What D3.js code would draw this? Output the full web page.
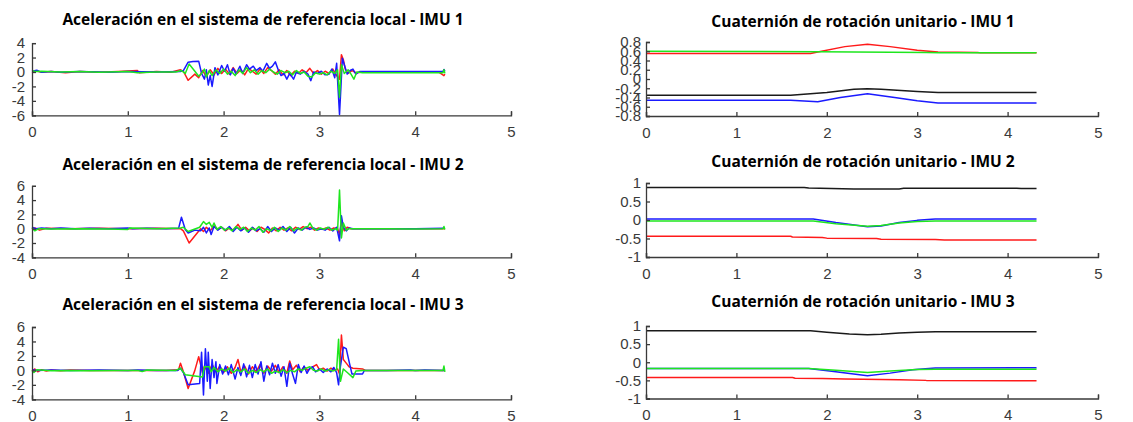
<!DOCTYPE html>
<html>
<head>
<meta charset="utf-8">
<script src="https://cdn.jsdelivr.net/npm/d3@7"></script>
<style>
  body { margin: 0; background: #fff; }
  svg { display: block; }
</style>
</head>
<body>
<svg id="fig" width="1133" height="422"></svg>
<script>
// ---------- titles ----------
const accTitles = [
  "Aceleración en el sistema de referencia local - IMU 1",
  "Aceleración en el sistema de referencia local - IMU 2",
  "Aceleración en el sistema de referencia local - IMU 3"
];
const quatTitles = [
  "Cuaternión de rotación unitario - IMU 1",
  "Cuaternión de rotación unitario - IMU 2",
  "Cuaternión de rotación unitario - IMU 3"
];

// ---------- tick values / labels ----------
const xTicks = [0, 1, 2, 3, 4, 5];
const xTickLabels = ["0", "1", "2", "3", "4", "5"];

const accYTicks1 = [-6, -4, -2, 0, 2, 4];
const accYLabels1 = ["-6", "-4", "-2", "0", "2", "4"];
const accYTicks23 = [-4, -2, 0, 2, 4, 6];
const accYLabels23 = ["-4", "-2", "0", "2", "4", "6"];

const quatYTicks1 = [-0.8, -0.6, -0.4, -0.2, 0, 0.2, 0.4, 0.6, 0.8];
const quatYLabels1 = ["-0.8", "-0.6", "-0.4", "-0.2", "0", "0.2", "0.4", "0.6", "0.8"];
const quatYTicks23 = [-1, -0.5, 0, 0.5, 1];
const quatYLabels23 = ["-1", "-0.5", "0", "0.5", "1"];

// ---------- acceleration, IMU 1 : [t (s), a] ----------
const acc1Red = [[0,-0.1],[0.04,0.15],[0.1,-0.05],[0.2,0.05],[0.35,-0.1],[0.5,0.05],[0.7,-0.05],[0.9,0.05],[1.1,0.2],[1.12,-0.1],[1.3,0.05],[1.45,-0.05],[1.55,0.3],[1.58,0.1],[1.63,-1.15],[1.7,-0.3],[1.74,-0.8],[1.78,0.2],[1.82,-0.6],[1.86,0.3],[1.9,-0.4],[1.94,0.5],[1.98,-0.2],[2.02,0.4],[2.06,-0.3],[2.1,0.6],[2.14,-0.2],[2.18,0.3],[2.22,-0.4],[2.26,0.5],[2.3,0.1],[2.34,-0.3],[2.38,0.4],[2.42,-0.2],[2.46,0.6],[2.5,0.2],[2.54,-0.3],[2.58,0.3],[2.62,-0.4],[2.66,0.2],[2.7,-0.5],[2.74,0.1],[2.78,-0.2],[2.82,0.3],[2.86,-0.1],[2.9,0.5],[2.94,-0.2],[2.98,0.2],[3.02,-0.3],[3.06,0.1],[3.1,-0.2],[3.14,0.4],[3.18,-0.5],[3.21,-1.0],[3.23,2.4],[3.25,1.7],[3.27,0.4],[3.3,-0.2],[3.34,0.2],[3.38,-0.1],[3.45,0],[3.7,-0.05],[4.0,0],[4.25,-0.05],[4.3,-0.5],[4.31,-0.3]];
const acc1Blue = [[0,0.1],[0.05,0.25],[0.1,-0.05],[0.2,0.05],[0.3,-0.05],[0.5,0.05],[0.8,-0.05],[1.0,0.05],[1.3,0],[1.55,0.05],[1.58,0.2],[1.63,1.35],[1.68,1.45],[1.74,1.5],[1.77,-0.2],[1.8,-1.0],[1.82,0.3],[1.84,-1.8],[1.86,-0.5],[1.88,-2.0],[1.91,0.6],[1.94,-0.4],[1.98,0.9],[2.01,0.1],[2.04,1.0],[2.07,-0.4],[2.1,0.5],[2.13,-0.3],[2.17,0.8],[2.2,-0.2],[2.24,1.0],[2.27,0.4],[2.31,0.8],[2.34,0.2],[2.38,0.6],[2.41,0.1],[2.45,1.2],[2.48,0.5],[2.51,0.8],[2.54,1.4],[2.57,0.3],[2.6,-0.5],[2.63,-0.2],[2.66,-1.0],[2.69,-0.2],[2.73,-1.0],[2.76,0],[2.8,-0.3],[2.84,0.1],[2.88,-0.3],[2.91,-1.2],[2.94,0],[2.98,-0.2],[3.02,0.1],[3.06,-0.4],[3.1,-0.3],[3.13,0.4],[3.16,-0.8],[3.18,1.2],[3.21,-5.9],[3.24,1.9],[3.26,1.0],[3.29,-0.3],[3.32,0.2],[3.35,0.4],[3.38,-0.3],[3.42,0.05],[3.7,0.05],[4.0,0.05],[4.29,0.05],[4.3,0.35],[4.31,0.1]];
const acc1Green = [[0,0.2],[0.04,0.05],[0.1,0.1],[0.3,0],[0.5,0.05],[0.7,-0.05],[1.0,0.05],[1.1,-0.1],[1.3,0],[1.5,0],[1.56,0.2],[1.6,-0.2],[1.64,1.1],[1.7,0.1],[1.74,-0.6],[1.77,-0.2],[1.8,0.4],[1.82,-0.7],[1.85,0.2],[1.88,-0.5],[1.92,0.3],[1.96,-0.2],[2.0,0.4],[2.04,-0.3],[2.08,0.1],[2.12,-0.5],[2.16,0.3],[2.2,-0.2],[2.24,0.6],[2.28,-0.1],[2.32,0.3],[2.36,-0.3],[2.4,0.2],[2.44,-0.1],[2.48,0.4],[2.52,0],[2.56,-0.3],[2.6,0.2],[2.64,-0.1],[2.68,0.1],[2.72,-0.4],[2.76,0.2],[2.8,-0.2],[2.84,0],[2.88,-0.6],[2.92,-0.7],[2.96,-0.1],[3.0,-0.3],[3.04,-0.1],[3.08,-0.4],[3.12,0.1],[3.16,-0.2],[3.19,0.3],[3.21,-3.5],[3.23,1.0],[3.26,-0.2],[3.3,0.3],[3.33,-0.3],[3.36,-1.0],[3.39,0],[3.45,-0.1],[3.7,-0.1],[4.0,-0.1],[4.29,-0.1],[4.3,0.3],[4.31,-0.2]];

// ---------- acceleration, IMU 2 ----------
const acc2Red = [[0,-0.1],[0.03,0.1],[0.08,-0.2],[0.15,0.05],[0.4,0],[0.7,0.05],[1.0,0],[1.3,0.05],[1.55,0],[1.58,-0.3],[1.64,-2.0],[1.76,0],[1.79,-0.4],[1.82,0.2],[1.86,-0.3],[1.9,0.4],[1.94,-0.1],[1.98,0.2],[2.02,-0.3],[2.06,0.1],[2.1,-0.2],[2.15,0.6],[2.19,-0.2],[2.23,0.2],[2.27,-0.3],[2.31,0.1],[2.35,-0.4],[2.39,0.2],[2.43,-0.1],[2.47,-0.6],[2.51,0.1],[2.55,-0.3],[2.59,0.2],[2.63,-0.2],[2.67,0.1],[2.71,-0.3],[2.75,0.2],[2.79,-0.1],[2.83,0.3],[2.87,0],[2.91,0.2],[2.95,-0.2],[2.99,0.1],[3.03,-0.1],[3.07,0.1],[3.11,-0.2],[3.15,0.1],[3.19,0],[3.21,-0.8],[3.23,0.8],[3.26,-0.3],[3.29,0.2],[3.33,0],[3.4,0],[3.7,0],[4.0,0],[4.31,0]];
const acc2Blue = [[0,0.2],[0.04,0],[0.1,0.1],[0.2,0],[0.3,0.1],[0.45,0],[0.6,0.05],[0.8,0],[1.0,0.1],[1.05,0],[1.2,0.05],[1.4,0],[1.53,0.05],[1.56,1.6],[1.6,-0.1],[1.63,-0.6],[1.7,-0.2],[1.76,-0.3],[1.79,0.2],[1.82,-0.6],[1.85,0.1],[1.87,-0.8],[1.9,0.3],[1.94,-0.2],[1.98,0.2],[2.02,-0.2],[2.06,0.3],[2.1,-0.4],[2.14,0.2],[2.18,-0.3],[2.22,0.1],[2.26,-0.5],[2.3,0.2],[2.34,-0.3],[2.38,0],[2.42,-0.5],[2.46,0.3],[2.5,-0.4],[2.54,0.1],[2.58,-0.2],[2.62,0.3],[2.66,-0.4],[2.7,0.2],[2.74,-0.6],[2.78,0.1],[2.82,-0.2],[2.86,0.2],[2.9,-0.1],[2.94,0.1],[2.98,-0.2],[3.02,0],[3.06,-0.2],[3.1,0.2],[3.14,-0.3],[3.18,0.2],[3.21,-1.7],[3.23,1.8],[3.25,0.2],[3.28,-0.3],[3.31,0.1],[3.35,0],[3.5,0],[4.0,0],[4.3,0.05]];
const acc2Green = [[0,0.1],[0.03,-0.3],[0.07,0],[0.2,-0.05],[0.5,0],[0.8,-0.05],[1.0,-0.1],[1.02,0.1],[1.3,0],[1.55,0.1],[1.58,0.2],[1.63,-0.4],[1.75,0.2],[1.79,1.0],[1.82,0.6],[1.85,0.9],[1.88,0.2],[1.9,0.8],[1.93,-0.1],[1.97,0.3],[2.01,-0.2],[2.05,0.1],[2.09,-0.3],[2.13,0.3],[2.17,-0.1],[2.21,0.2],[2.25,-0.4],[2.29,0.1],[2.33,-0.2],[2.37,0.3],[2.41,-0.5],[2.45,0],[2.49,-0.3],[2.53,0.2],[2.57,-0.4],[2.61,0.1],[2.65,-0.2],[2.69,0.3],[2.73,-0.3],[2.77,0.1],[2.81,-0.2],[2.85,0.2],[2.88,0.3],[2.9,0.8],[2.93,0.1],[2.97,-0.2],[3.01,0.1],[3.05,-0.1],[3.09,0.2],[3.13,-0.2],[3.17,0],[3.19,-0.2],[3.21,5.4],[3.23,-1.3],[3.25,0.8],[3.28,-0.2],[3.31,0],[3.4,0],[3.7,0],[3.95,-0.05],[4.29,0],[4.3,0.3],[4.31,-0.1]];

// ---------- acceleration, IMU 3 ----------
const acc3Red = [[0,-0.1],[0.03,0.2],[0.06,-0.2],[0.1,0.1],[0.15,-0.1],[0.2,0.05],[0.3,-0.05],[0.4,0.05],[0.6,0],[1.0,0],[1.4,0],[1.53,0.1],[1.55,1.0],[1.58,-0.2],[1.63,-2.5],[1.7,0],[1.74,1.9],[1.78,-0.3],[1.8,0.6],[1.84,-0.4],[1.88,0.8],[1.92,-0.2],[1.96,0.6],[2.0,-0.3],[2.04,0.5],[2.08,-0.4],[2.12,0.4],[2.15,1.5],[2.18,-0.2],[2.22,0.6],[2.26,-0.5],[2.3,0.5],[2.34,-0.2],[2.38,0.8],[2.42,-0.4],[2.46,0.6],[2.5,-0.1],[2.54,0.7],[2.58,-0.3],[2.62,0.5],[2.66,-0.4],[2.69,1.3],[2.72,0.1],[2.76,0.7],[2.8,-0.2],[2.84,0.5],[2.88,0],[2.92,0.4],[2.97,0.8],[3.0,0.1],[3.04,0.3],[3.08,-0.1],[3.12,0.3],[3.16,0],[3.19,0.2],[3.21,-0.5],[3.23,4.9],[3.25,1.5],[3.28,1.0],[3.31,0.5],[3.35,0.3],[3.45,0.2],[3.48,0],[3.7,0],[4.0,0],[4.31,0]];
const acc3Blue = [[0,0.1],[0.05,0],[0.2,0.05],[0.4,0],[0.7,0.05],[1.0,0],[1.1,0.05],[1.3,0],[1.52,0],[1.55,0.3],[1.58,-0.3],[1.63,-2.0],[1.75,-1.8],[1.77,2.5],[1.79,-3.4],[1.81,3.0],[1.83,-1.5],[1.84,2.5],[1.86,-2.5],[1.88,1.5],[1.9,-1.0],[1.92,1.2],[1.93,-1.8],[1.96,0.8],[1.99,-0.5],[2.02,0.6],[2.05,-0.6],[2.08,0.8],[2.12,-1.2],[2.15,0.4],[2.18,-0.7],[2.21,0.9],[2.24,-0.9],[2.27,0.7],[2.3,-1.0],[2.33,0.8],[2.36,-0.5],[2.39,1.2],[2.42,-1.5],[2.45,0.6],[2.48,-0.6],[2.51,1.0],[2.54,-0.4],[2.57,0.8],[2.6,-0.8],[2.63,0.5],[2.66,-2.2],[2.69,1.0],[2.72,-0.5],[2.75,-1.8],[2.78,0.8],[2.81,-0.3],[2.84,0.6],[2.87,-0.4],[2.9,0.3],[2.93,0.5],[2.96,-0.2],[3.0,0.2],[3.04,-0.3],[3.08,0.2],[3.12,-0.2],[3.15,0.4],[3.18,-0.3],[3.2,-2.0],[3.22,0.6],[3.25,3.2],[3.28,3.0],[3.31,1.2],[3.34,-0.5],[3.45,-0.5],[3.47,0],[3.7,0],[3.95,0.05],[4.0,0],[4.1,0.05],[4.3,0]];
const acc3Green = [[0,0],[0.02,-0.3],[0.05,0.1],[0.2,-0.05],[0.4,0],[0.6,-0.05],[0.9,0],[1.1,0],[1.15,-0.15],[1.2,0.05],[1.5,0],[1.55,0.3],[1.6,-0.6],[1.78,-0.9],[1.8,0.5],[1.85,0.5],[1.87,-0.2],[1.9,0.4],[1.94,-0.2],[1.98,0.2],[2.02,-0.1],[2.06,0.3],[2.1,-0.3],[2.14,0.1],[2.18,-0.2],[2.22,0.2],[2.26,-0.4],[2.3,0],[2.34,-0.3],[2.38,0.1],[2.42,-0.2],[2.46,0.2],[2.5,-0.4],[2.54,-0.1],[2.58,-0.3],[2.62,0.1],[2.66,-0.3],[2.7,0],[2.74,-0.2],[2.78,0.2],[2.82,0],[2.86,0.3],[2.9,0.5],[2.94,0],[2.98,-0.1],[3.02,0.2],[3.06,-0.1],[3.1,0.1],[3.14,-0.1],[3.18,0.1],[3.2,4.3],[3.22,-1.5],[3.25,0.2],[3.3,-0.4],[3.35,-1.0],[3.38,-0.1],[3.45,0],[3.7,0],[4.0,0],[4.29,0],[4.3,0.6],[4.31,-0.2]];

// ---------- unit quaternion, IMU 1 ----------
const quat1Black = [[0,-0.35],[1.6,-0.35],[2.0,-0.29],[2.3,-0.22],[2.45,-0.21],[2.6,-0.22],[3.0,-0.27],[3.23,-0.29],[4.32,-0.29]];
const quat1Red = [[0,0.55],[1.82,0.55],[1.9,0.585],[2.2,0.7],[2.45,0.75],[2.7,0.7],[3.0,0.62],[3.23,0.585],[3.67,0.575],[3.7,0.565],[4.32,0.565]];
const quat1Blue = [[0,-0.46],[1.6,-0.46],[1.9,-0.49],[2.15,-0.4],[2.45,-0.32],[2.75,-0.4],[3.0,-0.47],[3.23,-0.52],[4.32,-0.52]];
const quat1Green = [[0,0.6],[1.9,0.59],[3.1,0.575],[3.25,0.565],[4.32,0.565]];

// ---------- unit quaternion, IMU 2 ----------
const quat2Black = [[0,0.88],[1.75,0.88],[1.8,0.865],[2.3,0.84],[2.8,0.84],[2.85,0.855],[4.1,0.86],[4.15,0.85],[4.32,0.85]];
const quat2Red = [[0,-0.44],[1.6,-0.44],[1.62,-0.46],[1.95,-0.47],[2.0,-0.49],[2.55,-0.5],[2.6,-0.52],[3.2,-0.53],[3.3,-0.54],[4.32,-0.54]];
const quat2Blue = [[0,0.03],[1.85,0.03],[2.1,-0.07],[2.45,-0.18],[2.6,-0.16],[2.8,-0.07],[3.0,-0.01],[3.2,0.03],[4.32,0.03]];
const quat2Green = [[0,-0.03],[1.85,-0.03],[2.1,-0.1],[2.45,-0.17],[2.6,-0.15],[2.8,-0.08],[3.0,-0.04],[3.2,-0.03],[4.32,-0.03]];

// ---------- unit quaternion, IMU 3 ----------
const quat3Black = [[0,0.87],[1.82,0.87],[2.0,0.83],[2.25,0.78],[2.45,0.76],[2.6,0.77],[2.8,0.81],[3.0,0.83],[3.2,0.84],[4.32,0.84]];
const quat3Red = [[0,-0.42],[1.62,-0.42],[1.65,-0.44],[1.95,-0.45],[2.2,-0.46],[2.8,-0.48],[3.1,-0.5],[4.32,-0.51]];
const quat3Blue = [[0,-0.17],[1.8,-0.17],[2.1,-0.26],[2.45,-0.37],[2.7,-0.3],[2.95,-0.21],[3.2,-0.16],[4.32,-0.15]];
const quat3Green = [[0,-0.17],[1.8,-0.17],[2.1,-0.22],[2.45,-0.28],[2.7,-0.24],[3.0,-0.2],[3.2,-0.19],[4.32,-0.19]];

// ---------- styling ----------
const COLORS = { red: "#ff1a1a", green: "#1ee61e", blue: "#1a1aff", black: "#1a1a1a" };
const AXIS_COLOR = "#3a3a3a";
const TICK_FONT = "'Liberation Sans', Arial, sans-serif";
const TITLE_FONT = "'Open Sans', 'Noto Sans', sans-serif";

// ---------- panel layout ----------
const leftX = [32, 511];
const rightX = [646, 1098];

const panels = [
  { title: accTitles[0], x: leftX, y: [115.3, 43.1], dom: [-6, 4], yt: accYTicks1, yl: accYLabels1, pad: 7, ty: 25, tx: 263,
    series: [[acc1Red, "red"], [acc1Blue, "blue"], [acc1Green, "green"]] },
  { title: accTitles[1], x: leftX, y: [257.3, 185.8], dom: [-4, 6], yt: accYTicks23, yl: accYLabels23, pad: 7, ty: 170, tx: 263,
    series: [[acc2Red, "red"], [acc2Blue, "blue"], [acc2Green, "green"]] },
  { title: accTitles[2], x: leftX, y: [399.3, 327], dom: [-4, 6], yt: accYTicks23, yl: accYLabels23, pad: 7, ty: 310, tx: 263,
    series: [[acc3Red, "red"], [acc3Blue, "blue"], [acc3Green, "green"]] },
  { title: quatTitles[0], x: rightX, y: [116, 42], dom: [-0.8, 0.8], yt: quatYTicks1, yl: quatYLabels1, pad: 5, ty: 27, tx: 863,
    series: [[quat1Black, "black"], [quat1Red, "red"], [quat1Blue, "blue"], [quat1Green, "green"]] },
  { title: quatTitles[1], x: rightX, y: [257, 183], dom: [-1, 1], yt: quatYTicks23, yl: quatYLabels23, pad: 5, ty: 167, tx: 863,
    series: [[quat2Black, "black"], [quat2Red, "red"], [quat2Blue, "blue"], [quat2Green, "green"]] },
  { title: quatTitles[2], x: rightX, y: [398.5, 326], dom: [-1, 1], yt: quatYTicks23, yl: quatYLabels23, pad: 5, ty: 307, tx: 863,
    series: [[quat3Black, "black"], [quat3Red, "red"], [quat3Blue, "blue"], [quat3Green, "green"]] }
];

const svg = d3.select("#fig");

panels.forEach(p => {
  const x = d3.scaleLinear().domain([0, 5]).range(p.x);
  const y = d3.scaleLinear().domain(p.dom).range(p.y);
  const g = svg.append("g");

  // series
  const line = d3.line().x(d => x(d[0])).y(d => y(d[1]));
  p.series.forEach(([data, c]) => {
    g.append("path")
      .datum(data)
      .attr("d", line)
      .attr("fill", "none")
      .attr("stroke", COLORS[c])
      .attr("stroke-width", 1.5)
      .attr("stroke-linejoin", "round");
  });

  // x axis, ticks pointing inward
  const xAxis = d3.axisBottom(x)
    .tickValues(xTicks)
    .tickFormat((d, i) => xTickLabels[i])
    .tickSize(-4)
    .tickPadding(11);
  const gx = g.append("g").attr("transform", `translate(0,${p.y[0]})`).call(xAxis);

  // y axis, ticks pointing inward
  const yAxis = d3.axisLeft(y)
    .tickValues(p.yt)
    .tickFormat((d, i) => p.yl[i])
    .tickSize(-4)
    .tickPadding(p.pad);
  const gy = g.append("g").attr("transform", `translate(${p.x[0]},0)`).call(yAxis);

  [gx, gy].forEach(a => {
    a.select(".domain").attr("stroke", AXIS_COLOR).attr("stroke-width", 1.3);
    a.selectAll(".tick line").attr("stroke", AXIS_COLOR).attr("stroke-width", 1.3);
    a.selectAll(".tick text")
      .attr("fill", "#3a3a3a")
      .style("font-family", TICK_FONT)
      .style("font-size", "15px");
  });

  // title
  svg.append("text")
    .attr("x", p.tx)
    .attr("y", p.ty)
    .attr("text-anchor", "middle")
    .style("font-family", TITLE_FONT)
    .style("font-weight", 700)
    .style("font-size", "15.5px")
    .attr("fill", "#000")
    .text(p.title);
});
</script>
</body>
</html>
